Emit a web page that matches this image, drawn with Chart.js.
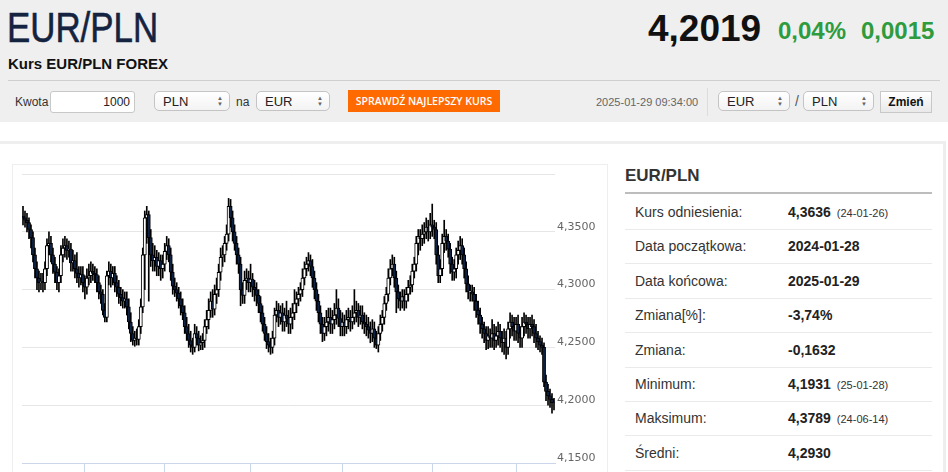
<!DOCTYPE html>
<html>
<head>
<meta charset="utf-8">
<script src="https://cdn.jsdelivr.net/npm/chart.js@4/dist/chart.umd.min.js"></script>
<style>
  body { margin: 0; width: 948px; height: 472px; overflow: hidden; font-family: "Liberation Sans", Arial, sans-serif; color: #222; background: #fff; position: relative; }
  .abs { position: absolute; white-space: nowrap; }
  #head { position: absolute; left: 0; top: 0; width: 948px; height: 122px; background: #efefef; }
  .sel { position: absolute; height: 20px; border: 1px solid #c4c4c4; border-radius: 5px; background: linear-gradient(#fff, #f3f3f3); font-size: 13px; line-height: 20px; padding-left: 8px; box-sizing: border-box; color: #222; }
  .sel .arr { position: absolute; right: 6px; top: 3px; font-size: 6px; line-height: 6px; color: #666; text-align: center; }
  .row { position: absolute; left: 625px; width: 307px; height: 34px; border-bottom: 1px solid #eaeaea; font-size: 14px; }
  .row .l { position: absolute; left: 10px; top: 9px; color: #333; }
  .row .v { position: absolute; left: 163px; top: 9px; font-weight: bold; color: #222; }
  .row .d { font-weight: normal; font-size: 11px; margin-left: 6px; color: #333; }
</style>
</head>
<body>
<div id="head"></div>
<div class="abs" style="left:7px;top:4px;font-size:42px;color:#14233f;transform:scaleX(0.83);transform-origin:0 0;-webkit-text-stroke:0.6px #14233f;">EUR/PLN</div>
<div class="abs" style="left:648px;top:8px;font-size:37px;font-weight:bold;color:#111;">4,2019</div>
<div class="abs" style="left:778px;top:17px;font-size:24px;font-weight:bold;color:#2e9b3e;">0,04%</div>
<div class="abs" style="left:861px;top:17px;font-size:24px;font-weight:bold;color:#2e9b3e;">0,0015</div>
<div class="abs" style="left:8px;top:55px;font-size:15px;font-weight:bold;color:#111;">Kurs EUR/PLN FOREX</div>
<div class="abs" style="left:8px;top:80px;width:932px;height:1px;background:#cfcfcf;"></div>

<div class="abs" style="left:15px;top:95px;font-size:12px;color:#333;">Kwota</div>
<div class="abs" style="left:50px;top:91px;width:85px;height:22px;border:1px solid #c8c8c8;border-radius:3px;background:#fff;box-sizing:border-box;font-size:12px;line-height:20px;text-align:right;padding-right:4px;">1000</div>
<div class="sel" style="left:154px;top:91px;width:76px;">PLN<span class="arr">&#9650;<br>&#9660;</span></div>
<div class="abs" style="left:236px;top:95px;font-size:12px;color:#333;">na</div>
<div class="sel" style="left:256px;top:91px;width:74px;">EUR<span class="arr">&#9650;<br>&#9660;</span></div>
<div class="abs" style="left:348px;top:90px;width:152px;height:22px;background:#ff6a00;color:#fff;font-family:'Open Sans',sans-serif;font-weight:600;font-size:10.5px;line-height:22px;text-align:center;">SPRAWDŹ NAJLEPSZY KURS</div>
<div class="abs" style="left:596px;top:96px;font-size:11px;color:#666;">2025-01-29 09:34:00</div>
<div class="abs" style="left:707px;top:88px;width:1px;height:28px;background:#dcdcdc;"></div>
<div class="sel" style="left:718px;top:91px;width:72px;">EUR<span class="arr">&#9650;<br>&#9660;</span></div>
<div class="abs" style="left:795px;top:93px;font-size:14px;color:#555;">/</div>
<div class="sel" style="left:803px;top:91px;width:71px;">PLN<span class="arr">&#9650;<br>&#9660;</span></div>
<div class="abs" style="left:880px;top:91px;width:52px;height:22px;border:1px solid #c8c8c8;background:linear-gradient(#fff,#e9e9e9);box-sizing:border-box;font-size:12px;font-weight:bold;line-height:20px;text-align:center;color:#111;">Zmień</div>

<div class="abs" style="left:0;top:141px;width:943px;height:340px;border-top:3px solid #eeeeee;border-right:3px solid #eeeeee;"></div>
<div class="abs" style="left:12px;top:164px;width:596px;height:330px;border:1px solid #eeeeee;box-sizing:border-box;"></div>
<div class="abs" style="left:12px;top:164px;width:596px;height:311px;">
  <canvas id="chart"></canvas>
</div>

<div class="abs" style="left:625px;top:166px;font-size:17px;font-weight:bold;color:#333;">EUR/PLN</div>
<div class="abs" style="left:625px;top:192px;width:307px;height:2px;background:#bdbdbd;"></div>
<div id="stats"></div>

<script>
// EUR/PLN daily candles, 2024-01-29 .. 2025-01-29
const open = [
  4.3636,4.362,4.360,4.358,4.352,4.345,4.330,4.318,4.310,4.306,
  4.307,4.306,4.318,4.338,4.340,4.330,4.322,4.315,4.306,4.312,
  4.330,4.336,4.338,4.334,4.335,4.323,4.325,4.318,4.314,4.310,
  4.313,4.306,4.302,4.310,4.312,4.316,4.314,4.313,4.306,4.298,
  4.296,4.282,4.276,4.312,4.316,4.310,4.314,4.306,4.302,4.296,
  4.293,4.290,4.292,4.285,4.272,4.262,4.256,4.258,4.257,4.268,
  4.285,4.330,4.362,4.365,4.345,4.330,4.325,4.328,4.320,4.325,
  4.318,4.322,4.333,4.338,4.330,4.315,4.303,4.300,4.297,4.292,
  4.286,4.280,4.268,4.262,4.256,4.252,4.250,4.262,4.258,4.252,
  4.254,4.256,4.268,4.274,4.282,4.290,4.283,4.296,4.300,4.315,
  4.328,4.330,4.340,4.348,4.372,4.362,4.350,4.340,4.330,4.322,
  4.300,4.295,4.308,4.310,4.306,4.309,4.302,4.300,4.295,4.288,
  4.280,4.270,4.262,4.255,4.252,4.250,4.258,4.278,4.282,4.276,
  4.280,4.272,4.278,4.275,4.270,4.276,4.280,4.288,4.292,4.296,
  4.300,4.310,4.318,4.322,4.325,4.320,4.310,4.300,4.290,4.280,
  4.270,4.262,4.268,4.272,4.276,4.270,4.274,4.278,4.284,4.275,
  4.268,4.272,4.268,4.274,4.276,4.272,4.276,4.280,4.282,4.276,
  4.278,4.272,4.270,4.268,4.265,4.262,4.266,4.258,4.252,4.262,
  4.270,4.276,4.288,4.296,4.310,4.318,4.322,4.310,4.298,4.292,
  4.290,4.294,4.290,4.296,4.302,4.304,4.316,4.322,4.340,4.346,
  4.344,4.348,4.350,4.354,4.350,4.356,4.354,4.352,4.330,4.312,
  4.318,4.340,4.346,4.342,4.335,4.322,4.315,4.318,4.330,4.334,
  4.338,4.330,4.318,4.305,4.298,4.298,4.296,4.290,4.282,4.278,
  4.270,4.266,4.262,4.256,4.260,4.258,4.262,4.256,4.260,4.264,
  4.258,4.254,4.258,4.250,4.266,4.272,4.268,4.264,4.270,4.262,
  4.258,4.268,4.272,4.270,4.266,4.270,4.268,4.262,4.258,4.255,
  4.252,4.250,4.220,4.212,4.208,4.205,4.202
];
const high = [
  4.372,4.368,4.366,4.362,4.356,4.350,4.336,4.324,4.316,4.314,
  4.314,4.324,4.344,4.350,4.346,4.336,4.328,4.320,4.318,4.338,
  4.344,4.346,4.344,4.342,4.340,4.334,4.330,4.332,4.320,4.320,
  4.320,4.312,4.318,4.322,4.324,4.322,4.320,4.318,4.312,4.304,
  4.300,4.288,4.316,4.324,4.322,4.320,4.320,4.312,4.308,4.302,
  4.300,4.298,4.298,4.292,4.280,4.268,4.264,4.266,4.274,4.292,
  4.336,4.368,4.372,4.368,4.352,4.340,4.338,4.334,4.332,4.330,
  4.330,4.340,4.346,4.344,4.336,4.322,4.310,4.306,4.302,4.298,
  4.292,4.286,4.276,4.270,4.264,4.258,4.270,4.268,4.264,4.260,
  4.262,4.274,4.282,4.292,4.298,4.300,4.304,4.310,4.322,4.336,
  4.338,4.346,4.356,4.3789,4.378,4.368,4.356,4.346,4.336,4.328,
  4.306,4.316,4.318,4.316,4.322,4.314,4.308,4.306,4.300,4.294,
  4.286,4.276,4.268,4.262,4.258,4.264,4.284,4.290,4.288,4.286,
  4.288,4.284,4.290,4.282,4.284,4.288,4.300,4.298,4.302,4.306,
  4.318,4.324,4.328,4.332,4.330,4.326,4.316,4.306,4.296,4.286,
  4.276,4.276,4.282,4.284,4.284,4.282,4.288,4.300,4.292,4.282,
  4.280,4.278,4.282,4.284,4.282,4.286,4.300,4.290,4.288,4.286,
  4.286,4.280,4.278,4.276,4.272,4.274,4.272,4.264,4.268,4.278,
  4.282,4.294,4.302,4.318,4.326,4.330,4.328,4.316,4.304,4.298,
  4.300,4.300,4.302,4.308,4.312,4.322,4.328,4.346,4.352,4.352,
  4.356,4.358,4.362,4.360,4.366,4.374,4.360,4.358,4.338,4.326,
  4.348,4.360,4.352,4.348,4.340,4.328,4.326,4.336,4.342,4.346,
  4.344,4.336,4.324,4.312,4.304,4.304,4.302,4.296,4.290,4.284,
  4.276,4.272,4.268,4.268,4.266,4.274,4.270,4.268,4.272,4.270,
  4.264,4.266,4.264,4.272,4.280,4.278,4.276,4.276,4.278,4.268,
  4.276,4.280,4.278,4.276,4.276,4.278,4.274,4.270,4.264,4.260,
  4.258,4.254,4.226,4.218,4.214,4.210,4.206
];
const low = [
  4.356,4.354,4.350,4.344,4.336,4.324,4.310,4.300,4.298,4.300,
  4.298,4.300,4.312,4.330,4.324,4.314,4.306,4.300,4.298,4.306,
  4.324,4.328,4.326,4.328,4.316,4.316,4.310,4.306,4.302,4.304,
  4.298,4.292,4.296,4.304,4.306,4.308,4.306,4.298,4.292,4.288,
  4.278,4.272,4.272,4.304,4.302,4.304,4.298,4.294,4.288,4.286,
  4.284,4.284,4.278,4.266,4.255,4.252,4.251,4.252,4.252,4.262,
  4.280,4.300,4.340,4.290,4.320,4.316,4.316,4.312,4.312,4.308,
  4.310,4.316,4.326,4.324,4.308,4.296,4.294,4.290,4.284,4.278,
  4.274,4.262,4.256,4.250,4.246,4.244,4.246,4.252,4.247,4.248,
  4.248,4.250,4.262,4.266,4.276,4.276,4.278,4.288,4.294,4.308,
  4.320,4.324,4.334,4.342,4.354,4.342,4.334,4.322,4.314,4.286,
  4.288,4.288,4.300,4.298,4.298,4.294,4.290,4.286,4.280,4.272,
  4.264,4.256,4.249,4.246,4.244,4.245,4.252,4.272,4.268,4.270,
  4.264,4.264,4.268,4.262,4.262,4.266,4.274,4.280,4.286,4.290,
  4.294,4.304,4.312,4.316,4.312,4.302,4.292,4.282,4.272,4.262,
  4.255,4.256,4.260,4.264,4.262,4.262,4.266,4.270,4.268,4.260,
  4.260,4.260,4.262,4.266,4.264,4.266,4.270,4.272,4.268,4.270,
  4.266,4.262,4.260,4.258,4.254,4.255,4.250,4.249,4.246,4.256,
  4.264,4.270,4.282,4.290,4.304,4.312,4.302,4.280,4.284,4.282,
  4.284,4.282,4.284,4.290,4.296,4.298,4.310,4.316,4.330,4.334,
  4.338,4.340,4.344,4.342,4.344,4.346,4.344,4.322,4.306,4.306,
  4.312,4.332,4.334,4.328,4.314,4.308,4.308,4.310,4.322,4.326,
  4.322,4.310,4.298,4.292,4.290,4.290,4.282,4.276,4.270,4.262,
  4.258,4.254,4.248,4.249,4.250,4.250,4.248,4.250,4.252,4.250,
  4.246,4.244,4.240,4.244,4.258,4.260,4.256,4.256,4.254,4.250,
  4.250,4.260,4.262,4.258,4.258,4.260,4.254,4.250,4.248,4.246,
  4.244,4.216,4.204,4.200,4.198,4.1931,4.196
];
const close = [
  4.362,4.360,4.358,4.352,4.345,4.330,4.318,4.310,4.306,4.307,
  4.306,4.318,4.338,4.340,4.330,4.322,4.315,4.306,4.312,4.330,
  4.336,4.338,4.334,4.335,4.323,4.325,4.318,4.314,4.310,4.313,
  4.306,4.302,4.310,4.312,4.316,4.314,4.313,4.306,4.298,4.296,
  4.282,4.276,4.312,4.316,4.310,4.314,4.306,4.302,4.296,4.293,
  4.290,4.292,4.285,4.272,4.262,4.256,4.258,4.257,4.268,4.285,
  4.330,4.362,4.365,4.345,4.330,4.325,4.328,4.320,4.325,4.318,
  4.322,4.333,4.338,4.330,4.315,4.303,4.300,4.297,4.292,4.286,
  4.280,4.268,4.262,4.256,4.252,4.250,4.262,4.258,4.252,4.254,
  4.256,4.268,4.274,4.282,4.290,4.283,4.296,4.300,4.315,4.328,
  4.330,4.340,4.348,4.372,4.362,4.350,4.340,4.330,4.322,4.300,
  4.295,4.308,4.310,4.306,4.309,4.302,4.300,4.295,4.288,4.280,
  4.270,4.262,4.255,4.252,4.250,4.258,4.278,4.282,4.276,4.280,
  4.272,4.278,4.275,4.270,4.276,4.280,4.288,4.292,4.296,4.300,
  4.310,4.318,4.322,4.325,4.320,4.310,4.300,4.290,4.280,4.270,
  4.262,4.268,4.272,4.276,4.270,4.274,4.278,4.284,4.275,4.268,
  4.272,4.268,4.274,4.276,4.272,4.276,4.280,4.282,4.276,4.278,
  4.272,4.270,4.268,4.265,4.262,4.266,4.258,4.252,4.262,4.270,
  4.276,4.288,4.296,4.310,4.318,4.322,4.310,4.298,4.292,4.290,
  4.294,4.290,4.296,4.302,4.304,4.316,4.322,4.340,4.346,4.344,
  4.348,4.350,4.354,4.350,4.356,4.354,4.352,4.330,4.312,4.318,
  4.340,4.346,4.342,4.335,4.322,4.315,4.318,4.330,4.334,4.338,
  4.330,4.318,4.305,4.298,4.298,4.296,4.290,4.282,4.278,4.270,
  4.266,4.262,4.256,4.260,4.258,4.262,4.256,4.260,4.264,4.258,
  4.254,4.258,4.250,4.266,4.272,4.268,4.264,4.270,4.262,4.258,
  4.268,4.272,4.270,4.266,4.270,4.268,4.262,4.258,4.255,4.252,
  4.250,4.220,4.212,4.208,4.205,4.202,4.2019
];
// candles where a new month starts (x axis tick marks)
const xTickIdx = [31, 71, 114, 160, 205, 247];
const yTicks = [4.15, 4.20, 4.25, 4.30, 4.35, 4.40];

const statLabels = ['Kurs odniesienia:', 'Data początkowa:', 'Data końcowa:', 'Zmiana[%]:', 'Zmiana:', 'Minimum:', 'Maksimum:', 'Średni:'];
const statValues = ['4,3636', '2024-01-28', '2025-01-29', '-3,74%', '-0,1632', '4,1931', '4,3789', '4,2930'];
const statDates = ['24-01-26', '', '', '', '', '25-01-28', '24-06-14', ''];

const stats = document.getElementById('stats');
statLabels.forEach((l, i) => {
  const r = document.createElement('div');
  r.className = 'row';
  r.style.top = (195 + i * 34.4) + 'px';
  r.innerHTML = '<span class="l">' + l + '</span><span class="v">' + statValues[i] +
    (statDates[i] ? '<span class="d">(' + statDates[i] + ')</span>' : '') + '</span>';
  stats.appendChild(r);
});

const labels = close.map((c, i) => i);
const wicks = low.map((l, i) => [l, high[i]]);
const bodies = open.map((o, i) => [o, close[i]]);
const bodyColors = open.map((o, i) => (close[i] >= o ? '#ffffff' : '#0f2244'));

const ctx = document.getElementById('chart');
new Chart(ctx, {
  type: 'bar',
  data: {
    labels: labels,
    datasets: [
      {
        data: wicks,
        backgroundColor: '#000',
        barThickness: 1,
        grouped: false,
        order: 2,
      },
      {
        data: bodies,
        backgroundColor: bodyColors,
        borderColor: '#000',
        borderWidth: 1,
        borderSkipped: false,
        barThickness: 3.2,
        minBarLength: 1,
        grouped: false,
        order: 1,
      },
    ],
  },
  options: {
    responsive: true,
    maintainAspectRatio: false,
    animation: false,
    layout: { padding: { left: 10, top: 10, right: 0, bottom: 0 } },
    scales: {
      x: {
        type: 'category',
        afterBuildTicks: (scale) => {
          scale.ticks = scale.ticks.filter((t) => xTickIdx.includes(t.value));
        },
        afterFit: (scale) => { scale.height = 12; },
        ticks: { display: false, autoSkip: false },
        grid: { offset: false, drawOnChartArea: false, drawTicks: true, tickLength: 9, color: '#ccd6eb' },
        border: { display: true, color: '#ccd6eb' },
      },
      y: {
        position: 'right',
        min: 4.15,
        max: 4.40,
        afterBuildTicks: (scale) => {
          scale.ticks = yTicks.map((v) => ({ value: v }));
        },
        afterFit: (scale) => { scale.width = 53; },
        ticks: {
          padding: 2,
          labelOffset: -5,
          color: '#666',
          font: { family: 'DejaVu Sans', size: 11 },
          callback: (v) => (v > 4.39 ? '' : v.toFixed(4).replace('.', ',')),
        },
        grid: { color: '#e6e6e6', drawTicks: false },
        border: { display: false },
      },
    },
    plugins: {
      legend: { display: false },
      tooltip: { enabled: false },
    },
  },
});
</script>
</body>
</html>
